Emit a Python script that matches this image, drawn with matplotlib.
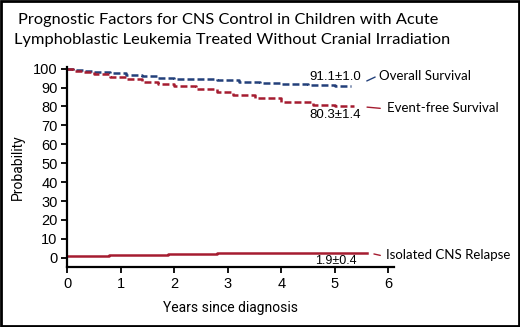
import numpy as np
import matplotlib.pyplot as plt
from matplotlib.patches import Rectangle

plt.rcParams['lines.scale_dashes'] = False

# ----- data
os_t = [0, 0.1, 0.3, 0.5, 0.8, 1.1, 1.4, 1.7, 2.0, 2.5, 2.8, 3.2, 3.6, 4.0, 4.5, 5.0, 5.3]
os_v = [100, 99.5, 99.0, 98.5, 97.6, 96.8, 96.2, 95.2, 94.8, 94.3, 93.9, 93.2, 92.4, 91.9, 91.4, 91.1, 91.1]
efs_t = [0, 0.1, 0.3, 0.5, 0.8, 1.1, 1.4, 1.7, 2.0, 2.4, 2.8, 3.1, 3.5, 4.0, 4.6, 5.0, 5.35]
efs_v = [100, 99.0, 98.0, 97.0, 95.8, 94.5, 93.2, 91.8, 90.8, 89.4, 87.5, 86.1, 84.3, 82.5, 80.8, 80.3, 80.3]
cns_t = [0, 0.78, 1.88, 2.8, 5.6]
cns_v = [0.9, 1.5, 2.0, 2.5, 2.5]
x_ticks = [0, 1, 2, 3, 4, 5, 6]
y_ticks = [0, 10, 20, 30, 40, 50, 60, 70, 80, 90, 100]

blue = '#23407a'
red = '#a51c30'
tick_font = 'Liberation Sans'
title_font = 'Lato'
label_font = 'Roboto'

fig = plt.figure(figsize=(5.2, 3.27), dpi=100)
ax = fig.add_axes([67.3/520, 0.183, 0.6277, 0.6127])

ax.plot(os_t, os_v, drawstyle='steps-post', color=blue, lw=1.8, dashes=(5, 2.2))
ax.plot(efs_t, efs_v, drawstyle='steps-post', color=red, lw=1.8, dashes=(5, 2.2))
ax.plot(cns_t, cns_v, drawstyle='steps-post', color=red, lw=1.8)

ax.set_xlim(0, 6.1)
ax.set_ylim(-5, 101)
ax.set_xticks(x_ticks)
ax.set_yticks(y_ticks)
ax.spines['top'].set_visible(False)
ax.spines['right'].set_visible(False)
for s in ('left', 'bottom'):
    ax.spines[s].set_linewidth(1.6)
ax.tick_params(direction='out', length=4, width=1.3, labelsize=10.5, pad=3)
for lab in ax.get_xticklabels() + ax.get_yticklabels():
    lab.set_family(tick_font)

ax.set_xlabel('Years since diagnosis', family=label_font, fontsize=10, labelpad=7)
ax.set_ylabel('Probability', family=label_font, fontsize=10, labelpad=6)

# ----- annotations
ax.text(5.0, 95.8, '91.1\u00b11.0', ha='center', va='center', family=tick_font, fontsize=9.5)
ax.annotate('', xy=(5.8, 96.2), xytext=(5.55, 92.9),
            arrowprops=dict(arrowstyle='-', color=blue, lw=1))
ax.text(5.82, 96.2, 'Overall Survival', ha='left', va='center', family=title_font, fontsize=9.5)

ax.text(5.0, 75.6, '80.3\u00b11.4', ha='center', va='center', family=tick_font, fontsize=9.5)
ax.annotate('', xy=(5.9, 78.9), xytext=(5.55, 79.8),
            arrowprops=dict(arrowstyle='-', color=red, lw=1))
ax.text(5.97, 79.0, 'Event-free Survival', ha='left', va='center', family=title_font, fontsize=9.5)

ax.text(5.02, -1.5, '1.9\u00b10.4', ha='center', va='center', family=tick_font, fontsize=9)
ax.annotate('', xy=(5.9, 0.9), xytext=(5.68, 2.3),
            arrowprops=dict(arrowstyle='-', color=red, lw=1))
ax.text(5.95, 1.4, 'Isolated CNS Relapse', ha='left', va='center', family=title_font, fontsize=9.5)

fig.text(18/520, 1 - 20/327, 'Prognostic Factors for CNS Control in Children with Acute',
         ha='left', va='center', family=title_font, fontsize=11.8)
fig.text(14/520, 1 - 40/327, 'Lymphoblastic Leukemia Treated Without Cranial Irradiation',
         ha='left', va='center', family=title_font, fontsize=11.8)

fig.patches.append(Rectangle((0.002, 0.003), 0.996, 0.994, transform=fig.transFigure,
                             fill=False, edgecolor='black', lw=2))

plt.savefig('out.png', dpi=100)
